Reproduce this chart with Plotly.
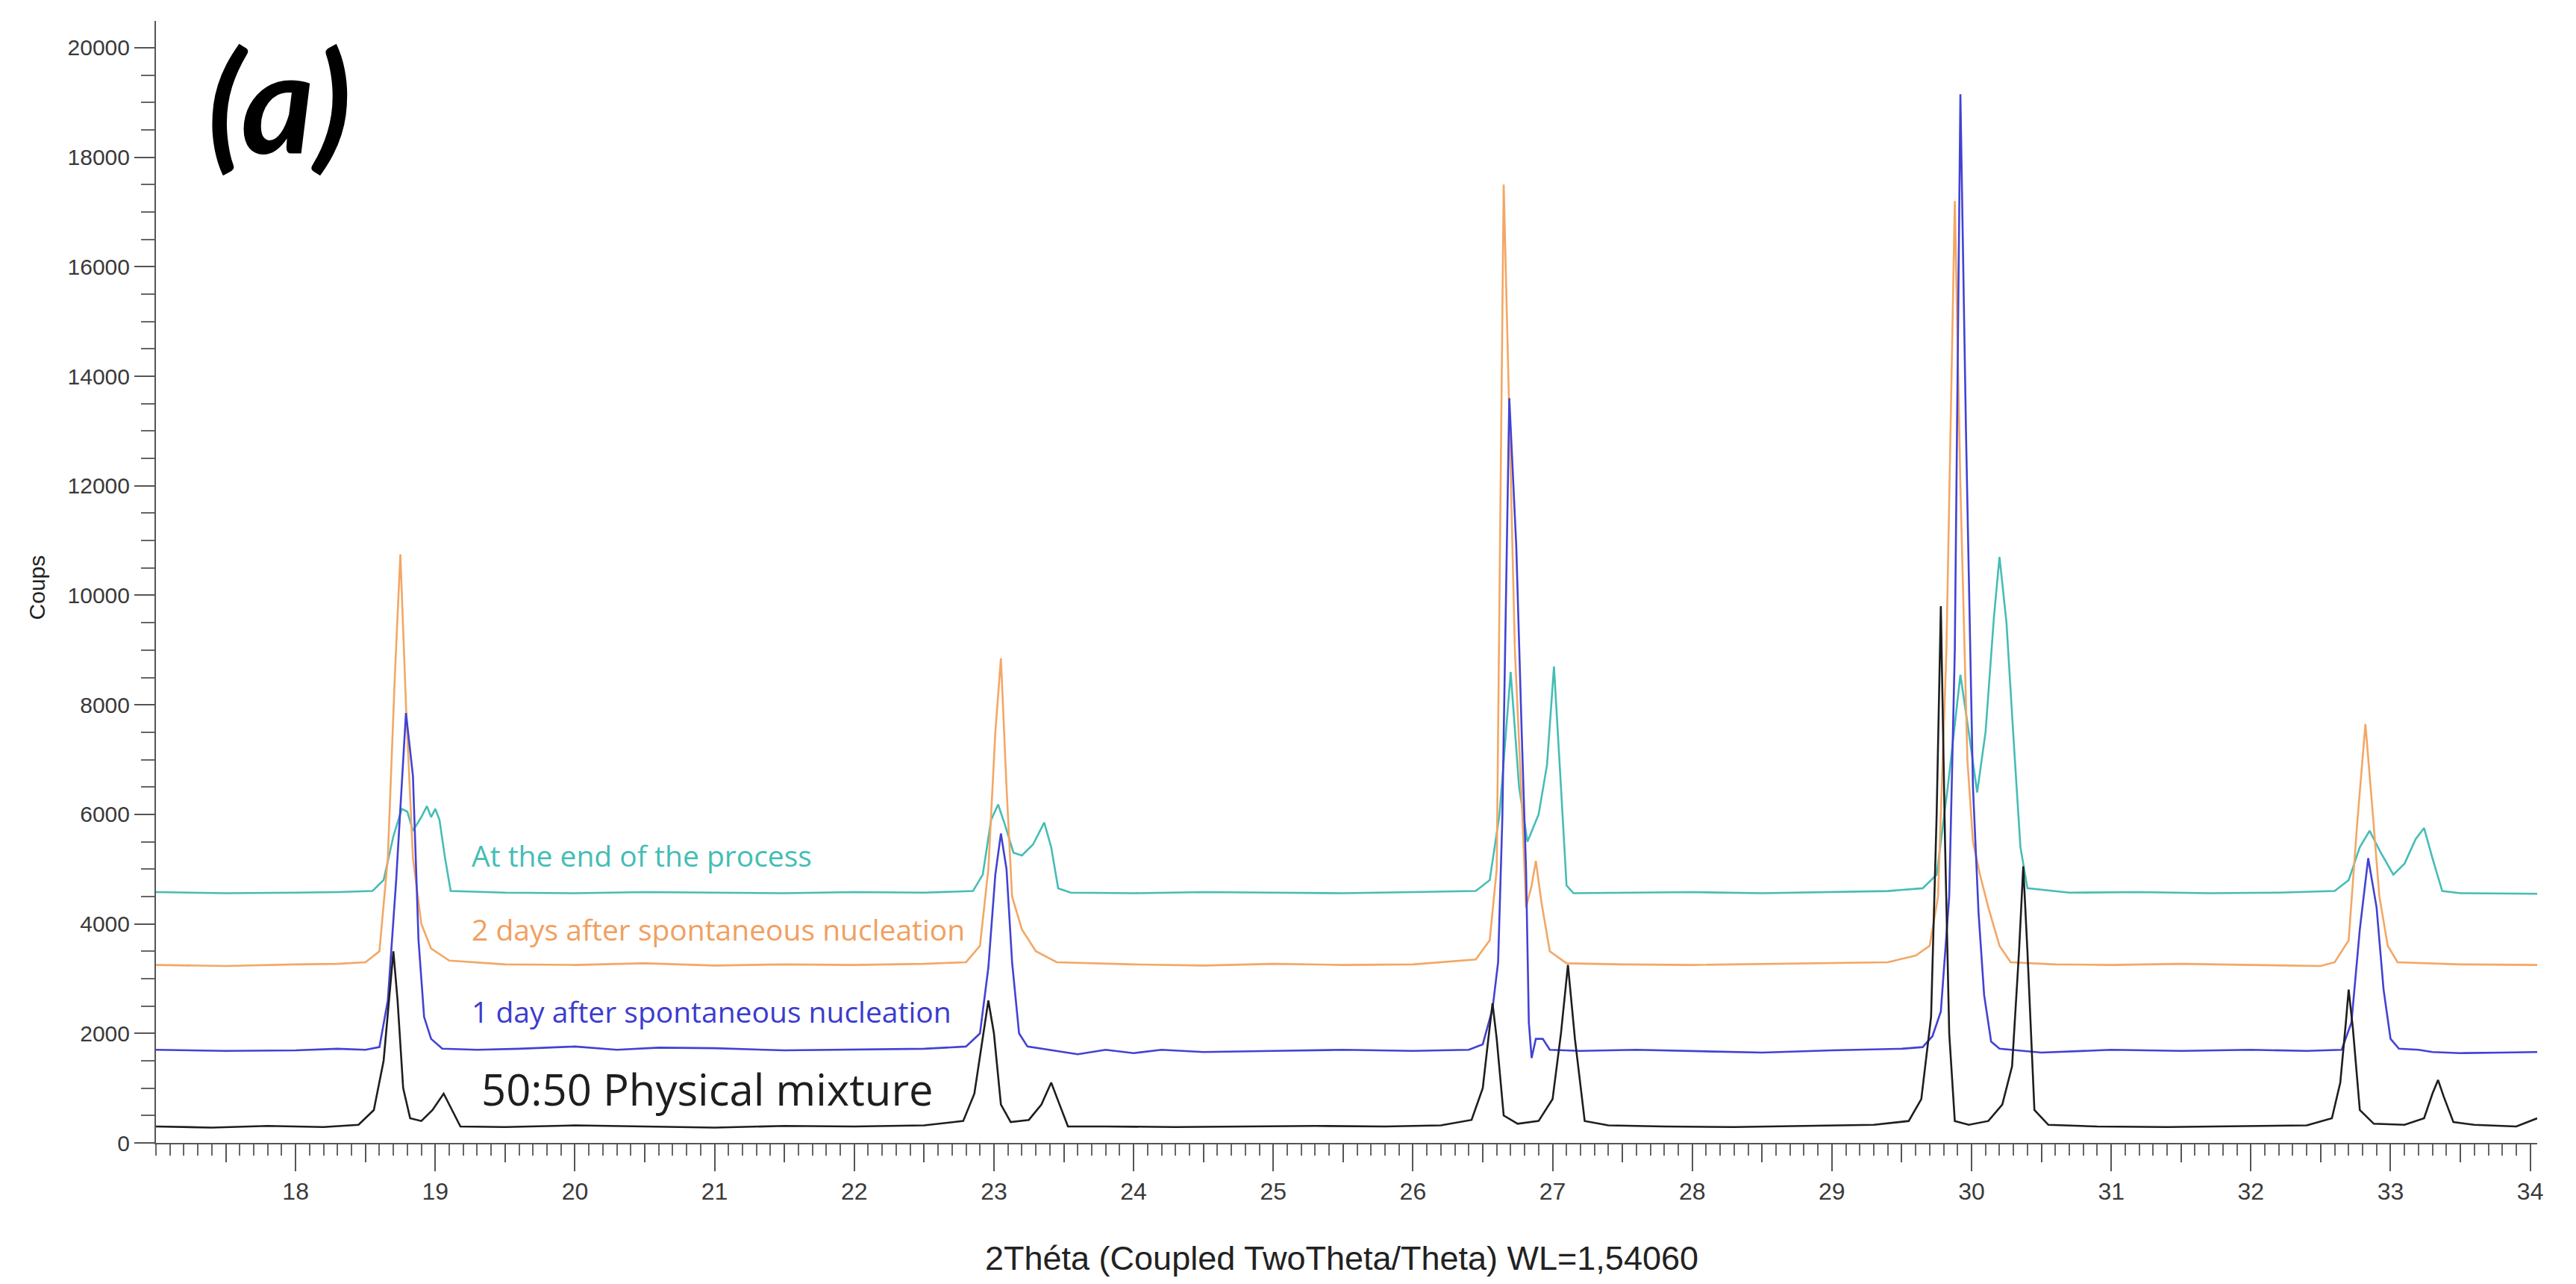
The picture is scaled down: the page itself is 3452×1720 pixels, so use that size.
import plotly.graph_objects as go

# Diffractograms (2theta in degrees, intensity in counts)

X_MIX = [17.00, 17.40, 17.80, 18.20, 18.45, 18.56, 18.63, 18.67, 18.70, 18.73, 18.77, 18.82,
         18.90, 18.98, 19.06, 19.12, 19.18, 19.50, 20.00, 20.50, 21.00, 21.50, 22.00, 22.50,
         22.78, 22.86, 22.92, 22.96, 23.00, 23.05, 23.12, 23.25, 23.34, 23.41, 23.47, 23.53,
         23.80, 24.30, 24.80, 25.30, 25.80, 26.20, 26.42, 26.50, 26.54, 26.57, 26.60, 26.65,
         26.75, 26.90, 27.00, 27.06, 27.11, 27.16, 27.23, 27.40, 27.80, 28.30, 28.80, 29.30,
         29.55, 29.64, 29.71, 29.75, 29.78, 29.81, 29.84, 29.88, 29.98, 30.12, 30.22, 30.29,
         30.34, 30.37, 30.40, 30.45, 30.55, 30.90, 31.40, 31.90, 32.40, 32.58, 32.64, 32.68,
         32.70, 32.73, 32.78, 32.88, 33.10, 33.24, 33.30, 33.34, 33.38, 33.45, 33.60, 33.90,
         34.05]
Y_MIX = [300, 280, 310, 290, 330, 600, 1500, 2600, 3500, 2600, 1000, 450,
         400, 600, 900, 600, 300, 290, 320, 300, 280, 310, 300, 320,
         400, 900, 1900, 2600, 2000, 700, 380, 420, 700, 1100, 700, 300,
         300, 290, 300, 310, 300, 320, 420, 1000, 1900, 2550, 1900, 500,
         350, 400, 800, 2000, 3250, 1900, 400, 320, 300, 290, 310, 330,
         400, 800, 2300, 6000, 9800, 5500, 2000, 400, 330, 400, 700, 1400,
         3500, 5050, 3500, 600, 330, 300, 290, 310, 320, 450, 1100, 2200,
         2800, 2100, 600, 350, 330, 450, 900, 1150, 850, 380, 330, 300,
         450]

X_DAY1 = [17.00, 17.50, 18.00, 18.30, 18.50, 18.60, 18.66, 18.72, 18.79, 18.84, 18.88, 18.92,
          18.97, 19.05, 19.30, 19.60, 20.00, 20.30, 20.60, 21.00, 21.50, 22.00, 22.50, 22.80,
          22.90, 22.96, 23.01, 23.05, 23.09, 23.13, 23.18, 23.24, 23.40, 23.60, 23.80, 24.00,
          24.20, 24.50, 25.00, 25.50, 26.00, 26.40, 26.50, 26.57, 26.61, 26.64, 26.69, 26.74,
          26.78, 26.81, 26.83, 26.85, 26.88, 26.93, 26.98, 27.20, 27.60, 28.00, 28.50, 29.00,
          29.50, 29.65, 29.72, 29.78, 29.84, 29.88, 29.92, 29.96, 30.01, 30.05, 30.09, 30.14,
          30.20, 30.50, 31.00, 31.50, 32.00, 32.40, 32.65, 32.72, 32.78, 32.84, 32.90, 32.95,
          33.00, 33.06, 33.20, 33.30, 33.50, 33.80, 34.05]
Y_DAY1 = [1700, 1680, 1690, 1720, 1700, 1750, 2600, 4800, 7850, 6700, 3700, 2300,
          1900, 1720, 1700, 1720, 1760, 1700, 1740, 1730, 1690, 1700, 1720, 1760,
          2000, 3200, 4900, 5650, 5000, 3300, 2000, 1760, 1700, 1620, 1700, 1640,
          1700, 1660, 1680, 1700, 1680, 1700, 1800, 2450, 3300, 5900, 13600, 10900,
          7400, 5000, 2200, 1550, 1900, 1900, 1700, 1680, 1700, 1680, 1650, 1690,
          1720, 1750, 1950, 2400, 4500, 9000, 19150, 13000, 6500, 4200, 2700, 1850,
          1720, 1650, 1700, 1680, 1700, 1680, 1700, 2200, 3900, 5200, 4300, 2800,
          1900, 1720, 1700, 1660, 1640, 1650, 1660]

X_DAY2 = [17.00, 17.50, 18.00, 18.30, 18.50, 18.60, 18.66, 18.71, 18.75, 18.79, 18.84, 18.90,
          18.97, 19.10, 19.50, 20.00, 20.50, 21.00, 21.50, 22.00, 22.50, 22.80, 22.90, 22.96,
          23.01, 23.05, 23.09, 23.13, 23.20, 23.30, 23.45, 24.00, 24.50, 25.00, 25.50, 26.00,
          26.45, 26.55, 26.60, 26.65, 26.69, 26.73, 26.78, 26.81, 26.85, 26.88, 26.92, 26.98,
          27.10, 27.50, 28.00, 28.50, 29.00, 29.40, 29.60, 29.70, 29.76, 29.82, 29.88, 29.92,
          29.97, 30.01, 30.06, 30.12, 30.20, 30.28, 30.60, 31.00, 31.50, 32.00, 32.50, 32.60,
          32.70, 32.76, 32.82, 32.87, 32.92, 32.98, 33.05, 33.50, 34.05]
Y_DAY2 = [3250, 3230, 3260, 3270, 3300, 3500, 5200, 8500, 10750, 8000, 5200, 4000,
          3550, 3330, 3260, 3250, 3280, 3240, 3260, 3250, 3270, 3300, 3600, 5000,
          7500, 8850, 6500, 4500, 3900, 3500, 3300, 3260, 3240, 3270, 3250, 3260,
          3350, 3700, 5000, 17500, 13300, 9000, 6200, 4300, 4700, 5150, 4400, 3500,
          3280, 3260, 3250, 3270, 3280, 3300, 3420, 3600, 4500, 9000, 17200, 12000,
          7000, 5500, 4900, 4300, 3600, 3300, 3260, 3250, 3270, 3250, 3230, 3300,
          3700, 5800, 7650, 6100, 4500, 3600, 3300, 3260, 3250]

X_END = [17.00, 17.50, 18.00, 18.30, 18.55, 18.63, 18.70, 18.76, 18.80, 18.84, 18.90, 18.94,
         18.97, 19.00, 19.03, 19.07, 19.11, 19.50, 20.00, 20.50, 21.00, 21.50, 22.00, 22.50,
         22.85, 22.92, 22.98, 23.03, 23.08, 23.14, 23.20, 23.28, 23.36, 23.41, 23.46, 23.55,
         24.00, 24.50, 25.00, 25.50, 26.00, 26.45, 26.55, 26.62, 26.70, 26.76, 26.82, 26.90,
         26.96, 27.01, 27.06, 27.10, 27.15, 27.50, 28.00, 28.50, 29.00, 29.40, 29.65, 29.75,
         29.83, 29.92, 29.98, 30.04, 30.10, 30.16, 30.20, 30.25, 30.30, 30.35, 30.40, 30.70,
         31.20, 31.70, 32.20, 32.60, 32.70, 32.78, 32.85, 32.93, 33.02, 33.10, 33.18, 33.24,
         33.30, 33.37, 33.50, 34.05]
Y_END = [4580, 4560, 4570, 4580, 4600, 4800, 5600, 6100, 6050, 5700, 5950, 6150,
         5950, 6100, 5900, 5200, 4600, 4570, 4560, 4580, 4570, 4560, 4580, 4570,
         4600, 4900, 5900, 6180, 5800, 5300, 5250, 5450, 5850, 5400, 4650, 4570,
         4560, 4580, 4570, 4560, 4580, 4600, 4800, 6000, 8600, 6500, 5500, 6000,
         6900, 8700, 6500, 4700, 4560, 4570, 4580, 4560, 4580, 4600, 4650, 4900,
         6500, 8550, 7500, 6400, 7500, 9600, 10700, 9500, 7400, 5400, 4650, 4570,
         4580, 4560, 4570, 4600, 4800, 5400, 5700, 5300, 4900, 5100, 5550, 5750,
         5200, 4600, 4560, 4550]

SERIES = [
    ("At the end of the process", X_END, Y_END, "#45bdb5"),
    ("2 days after spontaneous nucleation", X_DAY2, Y_DAY2, "#f3a765"),
    ("1 day after spontaneous nucleation", X_DAY1, Y_DAY1, "#4242d4"),
    ("50:50 Physical mixture", X_MIX, Y_MIX, "#1e1e1e"),
]

X_MAJOR = list(range(18, 35))
X_HALF = [v + 0.5 for v in range(17, 34)]
Y_MAJOR = list(range(0, 20001, 2000))

fig = go.Figure()

for name, xs, ys, color in SERIES:
    fig.add_trace(go.Scatter(
        x=xs, y=ys, mode="lines", name=name,
        line=dict(color=color, width=2.6),
        showlegend=False,
    ))

# invisible trace so the half-degree tick axis gets drawn
fig.add_trace(go.Scatter(x=[17.0, 34.05], y=[None, None], xaxis="x2",
                         mode="lines", showlegend=False, hoverinfo="skip"))

tick_font = dict(family="Liberation Sans, Arial, sans-serif", size=30, color="#3a3a3a")

fig.update_layout(
    width=3452,
    height=1720,
    margin=dict(l=201, r=60, t=20, b=197),
    paper_bgcolor="white",
    plot_bgcolor="white",
    xaxis=dict(
        range=[17.0, 34.05],
        tickvals=X_MAJOR,
        ticktext=[str(v) for v in X_MAJOR],
        ticks="outside", ticklen=36, tickwidth=2, tickcolor="#555",
        minor=dict(dtick=0.1, tick0=17.0, ticks="outside", ticklen=15,
                   tickwidth=2, tickcolor="#666"),
        showline=True, linecolor="#555", linewidth=2,
        showgrid=False, zeroline=False,
        tickfont=dict(family="Liberation Sans, Arial, sans-serif", size=32, color="#3a3a3a"),
    ),
    xaxis2=dict(
        overlaying="x", anchor="y", side="bottom",
        range=[17.0, 34.05],
        tickvals=X_HALF, ticks="outside", ticklen=25, tickwidth=2, tickcolor="#555",
        showticklabels=False, showline=False, showgrid=False, zeroline=False,
    ),
    yaxis=dict(
        range=[0, 20490],
        tickvals=Y_MAJOR,
        ticktext=[str(v) for v in Y_MAJOR],
        ticks="outside", ticklen=27, tickwidth=2, tickcolor="#555",
        minor=dict(dtick=500, tick0=0, ticks="outside", ticklen=18,
                   tickwidth=2, tickcolor="#666"),
        showline=True, linecolor="#555", linewidth=2,
        showgrid=False, zeroline=False,
        tickfont=tick_font,
    ),
)

ann_font = "Open Sans, Lato, sans-serif"
labels = [
    ("At the end of the process", 19.25, 5260, "#45bdb5", 39),
    ("2 days after spontaneous nucleation", 19.25, 3910, "#f0a060", 39),
    ("1 day after spontaneous nucleation", 19.25, 2410, "#3b3bd0", 39),
    ("50:50 Physical mixture", 19.32, 995, "#1e1e1e", 58),
]
for text, x, y, color, size in labels:
    fig.add_annotation(x=x, y=y, xref="x", yref="y", text=text, showarrow=False,
                       xanchor="left", yanchor="middle",
                       font=dict(family=ann_font, size=size, color=color))

fig.add_annotation(x=0.052, y=0.93, xref="paper", yref="paper", text="<b><i>(a)</i></b>",
                   showarrow=False, xanchor="center", yanchor="middle",
                   font=dict(family="Lato, Open Sans, sans-serif", size=188, color="black"))

fig.add_annotation(x=-0.05, y=0.495, xref="paper", yref="paper", text="Coups",
                   textangle=-90, showarrow=False, xanchor="center", yanchor="middle",
                   font=dict(family="Liberation Sans, Arial, sans-serif", size=30, color="#222"))

fig.add_annotation(x=0.498, y=-0.1025, xref="paper", yref="paper",
                   text="2Théta (Coupled TwoTheta/Theta) WL=1,54060",
                   showarrow=False, xanchor="center", yanchor="middle",
                   font=dict(family="Liberation Sans, Arial, sans-serif", size=45, color="#222"))

fig.write_html("out.html")
